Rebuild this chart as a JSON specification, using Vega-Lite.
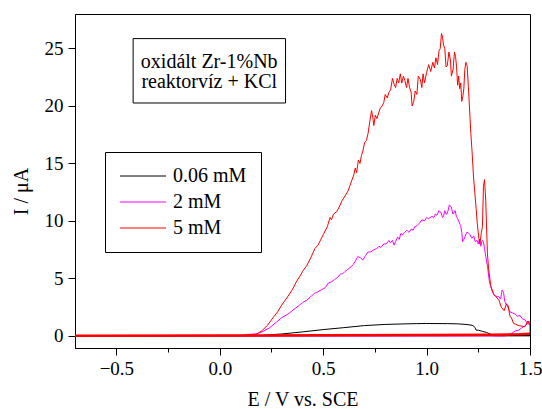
{
  "$schema": "https://vega.github.io/schema/vega-lite/v6.json",
  "width": 455,
  "height": 334,
  "autosize": "none",
  "padding": {"left": 75, "top": 14, "right": 12, "bottom": 61},
  "config": {
    "font": "Liberation Serif",
    "view": {"stroke": "black", "strokeWidth": 1},
    "axis": {
      "domainColor": "black", "tickColor": "black", "labelColor": "black", "titleColor": "black",
      "grid": false, "labelFontSize": 19, "titleFontSize": 20, "titleFontWeight": "normal",
      "labelFont": "Liberation Serif", "titleFont": "Liberation Serif"
    }
  },
  "datasets": {
    "curves": [
    {"c":"0.06 mM","b":"f","E":-0.7,"I":0.0},
    {"c":"0.06 mM","b":"f","E":1.5,"I":0.02},
    {"c":"0.06 mM","b":"r","E":1.5,"I":0.02},
    {"c":"0.06 mM","b":"r","E":1.32,"I":0.02},
    {"c":"0.06 mM","b":"r","E":1.31,"I":0.15},
    {"c":"0.06 mM","b":"r","E":1.29,"I":0.3},
    {"c":"0.06 mM","b":"r","E":1.27,"I":0.4},
    {"c":"0.06 mM","b":"r","E":1.25,"I":0.5},
    {"c":"0.06 mM","b":"r","E":1.24,"I":0.5},
    {"c":"0.06 mM","b":"r","E":1.233,"I":0.75},
    {"c":"0.06 mM","b":"r","E":1.228,"I":0.85},
    {"c":"0.06 mM","b":"r","E":1.22,"I":0.93},
    {"c":"0.06 mM","b":"r","E":1.19,"I":1.0},
    {"c":"0.06 mM","b":"r","E":1.15,"I":1.05},
    {"c":"0.06 mM","b":"r","E":1.1,"I":1.07},
    {"c":"0.06 mM","b":"r","E":1.0,"I":1.08},
    {"c":"0.06 mM","b":"r","E":0.95,"I":1.07},
    {"c":"0.06 mM","b":"r","E":0.9,"I":1.05},
    {"c":"0.06 mM","b":"r","E":0.8,"I":1.0},
    {"c":"0.06 mM","b":"r","E":0.7,"I":0.9},
    {"c":"0.06 mM","b":"r","E":0.6,"I":0.72},
    {"c":"0.06 mM","b":"r","E":0.5,"I":0.55},
    {"c":"0.06 mM","b":"r","E":0.4,"I":0.35},
    {"c":"0.06 mM","b":"r","E":0.3,"I":0.17},
    {"c":"0.06 mM","b":"r","E":0.2,"I":0.05},
    {"c":"0.06 mM","b":"r","E":0.1,"I":0.01},
    {"c":"0.06 mM","b":"r","E":-0.7,"I":0.0},

    {"c":"2 mM","b":"f","E":-0.7,"I":0.0},
    {"c":"2 mM","b":"f","E":1.38,"I":0.0},
    {"c":"2 mM","b":"f","E":1.41,"I":0.2},
    {"c":"2 mM","b":"f","E":1.43,"I":0.45},
    {"c":"2 mM","b":"f","E":1.445,"I":0.5},
    {"c":"2 mM","b":"f","E":1.46,"I":0.7},
    {"c":"2 mM","b":"f","E":1.478,"I":0.9},
    {"c":"2 mM","b":"f","E":1.49,"I":1.1},
    {"c":"2 mM","b":"f","E":1.5,"I":0.9},
    {"c":"2 mM","b":"r","E":1.495,"I":1.3},
    {"c":"2 mM","b":"r","E":1.488,"I":1.1},
    {"c":"2 mM","b":"r","E":1.475,"I":1.4},
    {"c":"2 mM","b":"r","E":1.462,"I":1.5},
    {"c":"2 mM","b":"r","E":1.45,"I":1.8},
    {"c":"2 mM","b":"r","E":1.44,"I":1.7},
    {"c":"2 mM","b":"r","E":1.428,"I":1.9},
    {"c":"2 mM","b":"r","E":1.415,"I":2.0},
    {"c":"2 mM","b":"r","E":1.403,"I":2.1},
    {"c":"2 mM","b":"r","E":1.39,"I":2.6},
    {"c":"2 mM","b":"r","E":1.378,"I":3.0},
    {"c":"2 mM","b":"r","E":1.372,"I":3.8},
    {"c":"2 mM","b":"r","E":1.365,"I":4.0},
    {"c":"2 mM","b":"r","E":1.358,"I":3.2},
    {"c":"2 mM","b":"r","E":1.35,"I":3.4},
    {"c":"2 mM","b":"r","E":1.344,"I":3.4},
    {"c":"2 mM","b":"r","E":1.33,"I":3.5},
    {"c":"2 mM","b":"r","E":1.319,"I":3.8},
    {"c":"2 mM","b":"r","E":1.31,"I":4.3},
    {"c":"2 mM","b":"r","E":1.303,"I":4.8},
    {"c":"2 mM","b":"r","E":1.295,"I":6.0},
    {"c":"2 mM","b":"r","E":1.286,"I":6.9},
    {"c":"2 mM","b":"r","E":1.28,"I":7.6},
    {"c":"2 mM","b":"r","E":1.275,"I":8.2},
    {"c":"2 mM","b":"r","E":1.269,"I":8.3},
    {"c":"2 mM","b":"r","E":1.262,"I":7.8},
    {"c":"2 mM","b":"r","E":1.255,"I":8.4},
    {"c":"2 mM","b":"r","E":1.25,"I":8.0},
    {"c":"2 mM","b":"r","E":1.244,"I":8.3},
    {"c":"2 mM","b":"r","E":1.235,"I":8.2},
    {"c":"2 mM","b":"r","E":1.228,"I":8.7},
    {"c":"2 mM","b":"r","E":1.219,"I":8.5},
    {"c":"2 mM","b":"r","E":1.21,"I":8.8},
    {"c":"2 mM","b":"r","E":1.2,"I":9.0},
    {"c":"2 mM","b":"r","E":1.194,"I":9.0},
    {"c":"2 mM","b":"r","E":1.185,"I":8.6},
    {"c":"2 mM","b":"r","E":1.178,"I":8.3},
    {"c":"2 mM","b":"r","E":1.174,"I":8.2},
    {"c":"2 mM","b":"r","E":1.17,"I":9.0},
    {"c":"2 mM","b":"r","E":1.165,"I":9.6},
    {"c":"2 mM","b":"r","E":1.161,"I":9.7},
    {"c":"2 mM","b":"r","E":1.155,"I":10.0},
    {"c":"2 mM","b":"r","E":1.15,"I":10.2},
    {"c":"2 mM","b":"r","E":1.144,"I":10.4},
    {"c":"2 mM","b":"r","E":1.138,"I":10.9},
    {"c":"2 mM","b":"r","E":1.132,"I":10.7},
    {"c":"2 mM","b":"r","E":1.127,"I":10.6},
    {"c":"2 mM","b":"r","E":1.12,"I":11.2},
    {"c":"2 mM","b":"r","E":1.11,"I":11.4},
    {"c":"2 mM","b":"r","E":1.104,"I":10.9},
    {"c":"2 mM","b":"r","E":1.098,"I":10.6},
    {"c":"2 mM","b":"r","E":1.094,"I":10.6},
    {"c":"2 mM","b":"r","E":1.088,"I":10.9},
    {"c":"2 mM","b":"r","E":1.082,"I":10.4},
    {"c":"2 mM","b":"r","E":1.077,"I":10.3},
    {"c":"2 mM","b":"r","E":1.07,"I":10.7},
    {"c":"2 mM","b":"r","E":1.06,"I":10.9},
    {"c":"2 mM","b":"r","E":1.05,"I":10.5},
    {"c":"2 mM","b":"r","E":1.043,"I":10.6},
    {"c":"2 mM","b":"r","E":1.035,"I":10.3},
    {"c":"2 mM","b":"r","E":1.025,"I":10.4},
    {"c":"2 mM","b":"r","E":1.01,"I":10.2},
    {"c":"2 mM","b":"r","E":1.0,"I":10.3},
    {"c":"2 mM","b":"r","E":0.99,"I":10.0},
    {"c":"2 mM","b":"r","E":0.977,"I":10.1},
    {"c":"2 mM","b":"r","E":0.965,"I":9.8},
    {"c":"2 mM","b":"r","E":0.955,"I":9.6},
    {"c":"2 mM","b":"r","E":0.943,"I":9.5},
    {"c":"2 mM","b":"r","E":0.935,"I":9.2},
    {"c":"2 mM","b":"r","E":0.926,"I":9.3},
    {"c":"2 mM","b":"r","E":0.915,"I":9.0},
    {"c":"2 mM","b":"r","E":0.905,"I":9.2},
    {"c":"2 mM","b":"r","E":0.893,"I":9.0},
    {"c":"2 mM","b":"r","E":0.885,"I":8.8},
    {"c":"2 mM","b":"r","E":0.875,"I":8.9},
    {"c":"2 mM","b":"r","E":0.868,"I":8.4},
    {"c":"2 mM","b":"r","E":0.86,"I":8.6},
    {"c":"2 mM","b":"r","E":0.85,"I":8.2},
    {"c":"2 mM","b":"r","E":0.843,"I":7.9},
    {"c":"2 mM","b":"r","E":0.835,"I":8.3},
    {"c":"2 mM","b":"r","E":0.825,"I":8.1},
    {"c":"2 mM","b":"r","E":0.818,"I":8.3},
    {"c":"2 mM","b":"r","E":0.805,"I":8.0},
    {"c":"2 mM","b":"r","E":0.793,"I":8.0},
    {"c":"2 mM","b":"r","E":0.78,"I":7.7},
    {"c":"2 mM","b":"r","E":0.77,"I":7.8},
    {"c":"2 mM","b":"r","E":0.759,"I":7.6},
    {"c":"2 mM","b":"r","E":0.745,"I":7.5},
    {"c":"2 mM","b":"r","E":0.73,"I":7.3},
    {"c":"2 mM","b":"r","E":0.717,"I":7.3},
    {"c":"2 mM","b":"r","E":0.705,"I":7.0},
    {"c":"2 mM","b":"r","E":0.692,"I":6.6},
    {"c":"2 mM","b":"r","E":0.68,"I":6.8},
    {"c":"2 mM","b":"r","E":0.667,"I":6.9},
    {"c":"2 mM","b":"r","E":0.655,"I":6.5},
    {"c":"2 mM","b":"r","E":0.645,"I":6.2},
    {"c":"2 mM","b":"r","E":0.634,"I":6.0},
    {"c":"2 mM","b":"r","E":0.62,"I":5.8},
    {"c":"2 mM","b":"r","E":0.605,"I":5.6},
    {"c":"2 mM","b":"r","E":0.594,"I":5.4},
    {"c":"2 mM","b":"r","E":0.584,"I":5.4},
    {"c":"2 mM","b":"r","E":0.57,"I":5.1},
    {"c":"2 mM","b":"r","E":0.555,"I":4.9},
    {"c":"2 mM","b":"r","E":0.54,"I":4.7},
    {"c":"2 mM","b":"r","E":0.525,"I":4.6},
    {"c":"2 mM","b":"r","E":0.51,"I":4.2},
    {"c":"2 mM","b":"r","E":0.49,"I":4.0},
    {"c":"2 mM","b":"r","E":0.47,"I":3.8},
    {"c":"2 mM","b":"r","E":0.458,"I":3.7},
    {"c":"2 mM","b":"r","E":0.445,"I":3.5},
    {"c":"2 mM","b":"r","E":0.42,"I":3.1},
    {"c":"2 mM","b":"r","E":0.4,"I":2.9},
    {"c":"2 mM","b":"r","E":0.38,"I":2.6},
    {"c":"2 mM","b":"r","E":0.358,"I":2.3},
    {"c":"2 mM","b":"r","E":0.33,"I":1.9},
    {"c":"2 mM","b":"r","E":0.3,"I":1.6},
    {"c":"2 mM","b":"r","E":0.274,"I":1.2},
    {"c":"2 mM","b":"r","E":0.24,"I":0.7},
    {"c":"2 mM","b":"r","E":0.21,"I":0.4},
    {"c":"2 mM","b":"r","E":0.182,"I":0.2},
    {"c":"2 mM","b":"r","E":0.1,"I":0.05},
    {"c":"2 mM","b":"r","E":-0.7,"I":0.02},

    {"c":"5 mM","b":"f","E":-0.7,"I":0.02},
    {"c":"5 mM","b":"f","E":0.0,"I":0.03},
    {"c":"5 mM","b":"f","E":0.5,"I":0.05},
    {"c":"5 mM","b":"f","E":1.0,"I":0.08},
    {"c":"5 mM","b":"f","E":1.3,"I":0.1},
    {"c":"5 mM","b":"f","E":1.45,"I":0.15},
    {"c":"5 mM","b":"f","E":1.5,"I":0.2},
    {"c":"5 mM","b":"r","E":1.5,"I":0.9},
    {"c":"5 mM","b":"r","E":1.49,"I":1.3},
    {"c":"5 mM","b":"r","E":1.475,"I":0.8},
    {"c":"5 mM","b":"r","E":1.445,"I":0.9},
    {"c":"5 mM","b":"r","E":1.42,"I":1.1},
    {"c":"5 mM","b":"r","E":1.41,"I":1.6},
    {"c":"5 mM","b":"r","E":1.403,"I":1.7},
    {"c":"5 mM","b":"r","E":1.395,"I":2.6},
    {"c":"5 mM","b":"r","E":1.386,"I":2.8},
    {"c":"5 mM","b":"r","E":1.375,"I":2.2},
    {"c":"5 mM","b":"r","E":1.361,"I":2.5},
    {"c":"5 mM","b":"r","E":1.35,"I":3.1},
    {"c":"5 mM","b":"r","E":1.336,"I":3.4},
    {"c":"5 mM","b":"r","E":1.325,"I":3.6},
    {"c":"5 mM","b":"r","E":1.311,"I":4.3},
    {"c":"5 mM","b":"r","E":1.3,"I":5.8},
    {"c":"5 mM","b":"r","E":1.294,"I":7.2},
    {"c":"5 mM","b":"r","E":1.286,"I":11.8},
    {"c":"5 mM","b":"r","E":1.28,"I":13.6},
    {"c":"5 mM","b":"r","E":1.275,"I":13.0},
    {"c":"5 mM","b":"r","E":1.27,"I":9.5},
    {"c":"5 mM","b":"r","E":1.264,"I":8.9},
    {"c":"5 mM","b":"r","E":1.258,"I":8.0},
    {"c":"5 mM","b":"r","E":1.252,"I":8.6},
    {"c":"5 mM","b":"r","E":1.245,"I":9.8},
    {"c":"5 mM","b":"r","E":1.24,"I":11.0},
    {"c":"5 mM","b":"r","E":1.233,"I":12.5},
    {"c":"5 mM","b":"r","E":1.227,"I":13.8},
    {"c":"5 mM","b":"r","E":1.22,"I":16.0},
    {"c":"5 mM","b":"r","E":1.214,"I":17.6},
    {"c":"5 mM","b":"r","E":1.207,"I":20.0},
    {"c":"5 mM","b":"r","E":1.202,"I":21.7},
    {"c":"5 mM","b":"r","E":1.196,"I":23.5},
    {"c":"5 mM","b":"r","E":1.19,"I":23.8},
    {"c":"5 mM","b":"r","E":1.185,"I":23.2},
    {"c":"5 mM","b":"r","E":1.18,"I":21.5},
    {"c":"5 mM","b":"r","E":1.175,"I":20.8},
    {"c":"5 mM","b":"r","E":1.17,"I":20.4},
    {"c":"5 mM","b":"r","E":1.165,"I":22.0},
    {"c":"5 mM","b":"r","E":1.16,"I":21.5},
    {"c":"5 mM","b":"r","E":1.155,"I":22.6},
    {"c":"5 mM","b":"r","E":1.15,"I":21.8},
    {"c":"5 mM","b":"r","E":1.145,"I":23.4},
    {"c":"5 mM","b":"r","E":1.14,"I":24.3},
    {"c":"5 mM","b":"r","E":1.135,"I":24.7},
    {"c":"5 mM","b":"r","E":1.128,"I":23.2},
    {"c":"5 mM","b":"r","E":1.12,"I":22.6},
    {"c":"5 mM","b":"r","E":1.115,"I":24.0},
    {"c":"5 mM","b":"r","E":1.108,"I":24.7},
    {"c":"5 mM","b":"r","E":1.1,"I":23.5},
    {"c":"5 mM","b":"r","E":1.094,"I":23.4},
    {"c":"5 mM","b":"r","E":1.088,"I":25.0},
    {"c":"5 mM","b":"r","E":1.082,"I":25.3},
    {"c":"5 mM","b":"r","E":1.077,"I":26.0},
    {"c":"5 mM","b":"r","E":1.072,"I":26.3},
    {"c":"5 mM","b":"r","E":1.066,"I":25.0},
    {"c":"5 mM","b":"r","E":1.06,"I":24.8},
    {"c":"5 mM","b":"r","E":1.053,"I":23.6},
    {"c":"5 mM","b":"r","E":1.045,"I":24.2},
    {"c":"5 mM","b":"r","E":1.038,"I":23.3},
    {"c":"5 mM","b":"r","E":1.03,"I":23.8},
    {"c":"5 mM","b":"r","E":1.02,"I":23.0},
    {"c":"5 mM","b":"r","E":1.01,"I":23.6},
    {"c":"5 mM","b":"r","E":1.0,"I":22.9},
    {"c":"5 mM","b":"r","E":0.99,"I":22.0},
    {"c":"5 mM","b":"r","E":0.983,"I":22.8},
    {"c":"5 mM","b":"r","E":0.977,"I":21.6},
    {"c":"5 mM","b":"r","E":0.97,"I":22.3},
    {"c":"5 mM","b":"r","E":0.96,"I":22.6},
    {"c":"5 mM","b":"r","E":0.953,"I":21.0},
    {"c":"5 mM","b":"r","E":0.945,"I":21.3},
    {"c":"5 mM","b":"r","E":0.938,"I":20.4},
    {"c":"5 mM","b":"r","E":0.93,"I":20.0},
    {"c":"5 mM","b":"r","E":0.925,"I":21.2},
    {"c":"5 mM","b":"r","E":0.918,"I":21.6},
    {"c":"5 mM","b":"r","E":0.91,"I":22.4},
    {"c":"5 mM","b":"r","E":0.903,"I":21.6},
    {"c":"5 mM","b":"r","E":0.895,"I":22.2},
    {"c":"5 mM","b":"r","E":0.888,"I":22.6},
    {"c":"5 mM","b":"r","E":0.88,"I":22.0},
    {"c":"5 mM","b":"r","E":0.873,"I":22.8},
    {"c":"5 mM","b":"r","E":0.865,"I":22.0},
    {"c":"5 mM","b":"r","E":0.858,"I":22.4},
    {"c":"5 mM","b":"r","E":0.85,"I":21.6},
    {"c":"5 mM","b":"r","E":0.843,"I":21.9},
    {"c":"5 mM","b":"r","E":0.835,"I":22.4},
    {"c":"5 mM","b":"r","E":0.826,"I":21.4},
    {"c":"5 mM","b":"r","E":0.818,"I":21.2},
    {"c":"5 mM","b":"r","E":0.81,"I":20.7},
    {"c":"5 mM","b":"r","E":0.8,"I":21.0},
    {"c":"5 mM","b":"r","E":0.793,"I":20.3},
    {"c":"5 mM","b":"r","E":0.785,"I":20.0},
    {"c":"5 mM","b":"r","E":0.776,"I":19.8},
    {"c":"5 mM","b":"r","E":0.768,"I":19.4},
    {"c":"5 mM","b":"r","E":0.76,"I":18.9},
    {"c":"5 mM","b":"r","E":0.752,"I":19.2},
    {"c":"5 mM","b":"r","E":0.745,"I":18.3},
    {"c":"5 mM","b":"r","E":0.74,"I":19.0},
    {"c":"5 mM","b":"r","E":0.734,"I":19.6},
    {"c":"5 mM","b":"r","E":0.725,"I":18.6},
    {"c":"5 mM","b":"r","E":0.717,"I":17.6},
    {"c":"5 mM","b":"r","E":0.709,"I":17.0},
    {"c":"5 mM","b":"r","E":0.7,"I":16.8},
    {"c":"5 mM","b":"r","E":0.692,"I":16.1},
    {"c":"5 mM","b":"r","E":0.685,"I":15.7},
    {"c":"5 mM","b":"r","E":0.678,"I":15.0},
    {"c":"5 mM","b":"r","E":0.67,"I":15.3},
    {"c":"5 mM","b":"r","E":0.662,"I":14.2},
    {"c":"5 mM","b":"r","E":0.655,"I":14.6},
    {"c":"5 mM","b":"r","E":0.648,"I":14.0},
    {"c":"5 mM","b":"r","E":0.64,"I":13.6},
    {"c":"5 mM","b":"r","E":0.63,"I":13.1},
    {"c":"5 mM","b":"r","E":0.62,"I":12.6},
    {"c":"5 mM","b":"r","E":0.61,"I":12.3},
    {"c":"5 mM","b":"r","E":0.6,"I":12.0},
    {"c":"5 mM","b":"r","E":0.592,"I":11.8},
    {"c":"5 mM","b":"r","E":0.58,"I":11.3},
    {"c":"5 mM","b":"r","E":0.565,"I":10.8},
    {"c":"5 mM","b":"r","E":0.55,"I":10.6},
    {"c":"5 mM","b":"r","E":0.54,"I":10.1},
    {"c":"5 mM","b":"r","E":0.533,"I":10.3},
    {"c":"5 mM","b":"r","E":0.52,"I":9.5},
    {"c":"5 mM","b":"r","E":0.5,"I":8.8},
    {"c":"5 mM","b":"r","E":0.475,"I":7.9},
    {"c":"5 mM","b":"r","E":0.46,"I":7.6},
    {"c":"5 mM","b":"r","E":0.44,"I":6.8},
    {"c":"5 mM","b":"r","E":0.42,"I":6.1},
    {"c":"5 mM","b":"r","E":0.4,"I":5.6},
    {"c":"5 mM","b":"r","E":0.391,"I":5.3},
    {"c":"5 mM","b":"r","E":0.37,"I":4.7},
    {"c":"5 mM","b":"r","E":0.35,"I":4.0},
    {"c":"5 mM","b":"r","E":0.324,"I":3.3},
    {"c":"5 mM","b":"r","E":0.3,"I":2.7},
    {"c":"5 mM","b":"r","E":0.28,"I":2.1},
    {"c":"5 mM","b":"r","E":0.258,"I":1.6},
    {"c":"5 mM","b":"r","E":0.23,"I":0.9},
    {"c":"5 mM","b":"r","E":0.2,"I":0.4},
    {"c":"5 mM","b":"r","E":0.174,"I":0.12},
    {"c":"5 mM","b":"r","E":0.1,"I":0.03},
    {"c":"5 mM","b":"r","E":-0.7,"I":0.02}
    ],
    "note": [{"t": ["oxidált Zr-1%Nb", "reaktorvíz + KCl"]}]
  },
  "layer": [
    {
      "data": {"name": "curves"},
      "mark": {"type": "line", "strokeWidth": 1, "clip": true},
      "encoding": {
        "x": {"field": "E", "type": "quantitative", "scale": {"domain": [-0.7, 1.5], "nice": false, "zero": false},
          "axis": {
            "title": "E / V vs. SCE", "titlePadding": 11,
            "values": [-0.5, -0.25, 0, 0.25, 0.5, 0.75, 1, 1.25, 1.5],
            "format": ".1f",
            "labelExpr": "abs(datum.value*2 - round(datum.value*2)) > 0.01 ? '' : datum.label",
            "tickSize": {"condition": {"test": "abs(datum.value*2 - round(datum.value*2)) > 0.01", "value": 4}, "value": 7},
            "labelPadding": 4, "labelFlush": false, "labelOverlap": false, "labelBound": false
          }},
        "y": {"field": "I", "type": "quantitative", "scale": {"domain": [-1.05, 28], "nice": false, "zero": false},
          "axis": {
            "title": "I / μA", "titlePadding": 13, "titleY": 177,
            "values": [0, 2.5, 5, 7.5, 10, 12.5, 15, 17.5, 20, 22.5, 25, 27.5],
            "labelExpr": "datum.value % 5 === 0 ? datum.label : ''",
            "tickSize": {"condition": {"test": "datum.value % 5 !== 0", "value": 4}, "value": 7},
            "labelPadding": 5, "labelOverlap": false
          }},
        "color": {"field": "c", "type": "nominal",
          "scale": {"domain": ["0.06 mM", "2 mM", "5 mM"], "range": ["#000000", "#FF00FF", "#FF0000"]},
          "legend": {
            "title": null, "orient": "none", "legendX": 30, "legendY": 138,
            "strokeColor": "black", "padding": 14, "symbolType": "M-1.8,0H7.4", "symbolSize": 100,
            "symbolStrokeWidth": 1, "labelFontSize": 20, "labelFont": "Liberation Serif", "labelColor": "black",
            "labelOffset": 34, "rowPadding": 6, "labelLimit": 300
          }},
        "order": {"value": null}
      }
    },
    {
      "data": {"name": "curves"},
      "transform": [{"filter": "datum.c === '5 mM' && datum.b === 'f'"}],
      "mark": {"type": "line", "strokeWidth": 2.5, "color": "#FF0000", "clip": true},
      "encoding": {
        "x": {"field": "E", "type": "quantitative"},
        "y": {"field": "I", "type": "quantitative"},
        "order": {"value": null}
      }
    },
    {
      "data": {"name": "note"},
      "mark": {"type": "rect", "fill": null, "stroke": "black", "strokeWidth": 1},
      "encoding": {
        "x": {"datum": -0.419}, "x2": {"datum": 0.318},
        "y": {"datum": 25.86}, "y2": {"datum": 20.26}
      }
    },
    {
      "data": {"name": "note"},
      "mark": {"type": "text", "fontSize": 20, "font": "Liberation Serif", "color": "black", "align": "center", "baseline": "middle", "lineHeight": 20},
      "encoding": {
        "x": {"datum": -0.051},
        "y": {"datum": 23.8},
        "text": {"field": "t"}
      }
    }
  ]
}
